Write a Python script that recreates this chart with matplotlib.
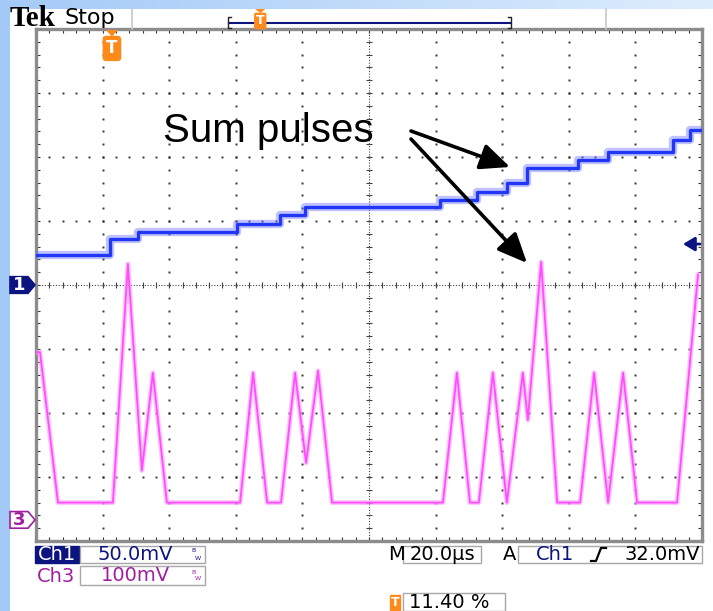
import numpy as np
import matplotlib.pyplot as plt
from matplotlib.patches import Rectangle, Polygon
from matplotlib.transforms import blended_transform_factory

W, H = 713, 611

# Ch1: staircase sum signal, step times (us) and level after each step (mV)
ch1_t = [0.0, 22.2, 30.6, 60.4, 73.3, 80.8, 121.3, 132.4, 141.4, 147.4,
         162.8, 171.8, 191.3, 196.4, 200.0]
ch1_mv = [23.4, 35.9, 41.4, 47.7, 54.7, 60.9, 66.4, 72.7, 79.7, 91.4,
          97.7, 103.9, 113.3, 121.1, 121.1]

# Ch3: shaped pulses, corner points (us, mV)
ch3_t = [0, 1.2, 6.6, 23.1, 27.6, 31.8, 35.1, 39.3, 61.3, 65.2, 69.4,
         73.6, 77.8, 81.1, 84.7, 88.9, 122.2, 126.4, 130.3, 133.0, 137.2,
         141.4, 146.2, 147.7, 151.7, 156.5, 163.4, 167.6, 171.8, 176.3,
         180.5, 192.5, 198.8]
ch3_mv = [262, 262, 27, 27, 400, 77, 230, 27, 27, 230, 27,
          27, 230, 89, 233, 27, 27, 230, 27, 27, 230,
          27, 230, 156, 403, 27, 27, 230, 27, 230,
          27, 27, 383]

# scope settings
ch1_scale = 50.0      # mV/div
ch3_scale = 100.0     # mV/div
ch1_pos = 0.0         # div
ch3_pos = -3.67       # div
time_scale = 20.0     # us/div
trig_level = 32.0     # mV on Ch1
trig_pct = 11.40      # % of record

NAVY = '#0c1480'
PURPLE = '#a01ea0'
ORANGE = '#ff8a1c'
BLUE = '#2236f5'
PINK = '#ff4cff'

fig = plt.figure(figsize=(W / 100, H / 100), dpi=100)

# background: white with light blue left and top strips
bg = fig.add_axes([0, 0, 1, 1], zorder=0)
bg.set_axis_off()
img = np.ones((H, W, 3))
c0 = np.array([0.64, 0.79, 0.97])
c1 = np.array([0.87, 0.93, 0.99])
ramp = np.linspace(0, 1, W)[:, None]
img[:9, :, :] = c0 * (1 - ramp) + c1 * ramp
img[:, :10, :] = c0
bg.imshow(img, aspect='auto', extent=[0, W, H, 0], interpolation='bilinear')
bg.set_xlim(0, W)
bg.set_ylim(H, 0)

# graticule
ax = fig.add_axes([36 / W, 1 - 541 / H, 666 / W, 512 / H], zorder=2)
ax.set_xlim(0, 10 * time_scale)
ax.set_ylim(-4, 4)
ax.set_facecolor('white')
for s in ax.spines.values():
    s.set_color('#8c8c8c')
    s.set_linewidth(2.4)
ax.set_xticks(np.arange(0, 200.01, 4))
ax.set_yticks(np.arange(-4, 4.001, 0.2))
ax.tick_params(direction='in', length=3, width=0.8, color='#333333',
               top=True, right=True, labelbottom=False, labelleft=False)

ys = np.arange(-4, 4.001, 0.2)
xs = np.arange(0, 200.01, 4)
for gx in range(20, 200, 20):
    if gx != 100:
        ax.plot(np.full_like(ys, gx), ys, 's', ms=1.4, color='#333333', mec='none')
for gy in [-3, -2, -1, 1, 2, 3]:
    ax.plot(xs, np.full_like(xs, gy), 's', ms=1.4, color='#333333', mec='none')
ax.axhline(0, color='#444444', lw=0.8, ls=(0, (1, 1.5)))
ax.axvline(100, color='#444444', lw=0.8, ls=(0, (1, 1.5)))
ax.plot(xs, np.zeros_like(xs), '|', ms=5, mew=0.8, color='#444444')
ax.plot(np.full_like(ys, 100), ys, '_', ms=5, mew=0.8, color='#444444')

# traces
y1 = np.array(ch1_mv) / ch1_scale + ch1_pos
ax.step(ch1_t, y1, where='post', color='#6f7aff', lw=6, alpha=0.45, zorder=4)
ax.step(ch1_t, y1, where='post', color=BLUE, lw=2.4, zorder=5)
y3 = np.array(ch3_mv) / ch3_scale + ch3_pos
ax.plot(ch3_t, y3, color='#ff9cff', lw=3.5, alpha=0.6, zorder=4)
ax.plot(ch3_t, y3, color=PINK, lw=1.3, zorder=5)

# channel markers on the left, trigger level arrow on the right
tr = blended_transform_factory(ax.transAxes, ax.transData)
fx = lambda px: (px - 36) / 666.0
for pos, label, fc, ec, tc in [(ch1_pos, '1', NAVY, NAVY, 'white'),
                                (ch3_pos, '3', 'white', PURPLE, PURPLE)]:
    h = 0.13
    pts = [(fx(10), pos + h), (fx(28), pos + h), (fx(35), pos),
           (fx(28), pos - h), (fx(10), pos - h)]
    ax.add_patch(Polygon(pts, closed=True, fc=fc, ec=ec, lw=1.2,
                         transform=tr, clip_on=False, zorder=6))
    ax.text(fx(19), pos, label, transform=tr, color=tc, fontsize=13,
            fontweight='bold', ha='center', va='center', clip_on=False, zorder=7)

ty = trig_level / ch1_scale + ch1_pos
ax.annotate('', xy=(fx(683), ty), xytext=(fx(700), ty), xycoords=tr,
            textcoords=tr, zorder=7,
            arrowprops=dict(arrowstyle='-|>,head_length=0.5,head_width=0.3',
                            color=NAVY, lw=2, shrinkA=0, shrinkB=0,
                            mutation_scale=14))

# trigger position marker
t_trig = trig_pct / 100 * 10 * time_scale
tt = blended_transform_factory(ax.transData, ax.transAxes)
ax.add_patch(Polygon([(t_trig - 1.8, 0.998), (t_trig + 1.8, 0.998), (t_trig, 0.985)],
                     closed=True, fc=ORANGE, ec='none', transform=tt,
                     clip_on=False, zorder=7))
ax.text(t_trig, 0.962, 'T', transform=tt, color='white', fontsize=12,
        fontweight='bold', ha='center', va='center', zorder=8,
        bbox=dict(boxstyle='round,pad=0.22', fc=ORANGE, ec='none'))

# overlay in pixel coordinates for readouts and annotation
ui = fig.add_axes([0, 0, 1, 1], zorder=3)
ui.set_xlim(0, W)
ui.set_ylim(H, 0)
ui.set_axis_off()
ui.patch.set_alpha(0)

# top status bar
ui.text(10, 18, 'Tek', fontsize=21, fontweight='bold', family='Liberation Serif',
        ha='left', va='center')
ui.text(65, 18, 'Stop', fontsize=16, ha='left', va='center')
for sx in [132, 606]:
    ui.plot([sx, sx], [9, 29], color='#c8c8c8', lw=1.2)
ui.plot([229, 510], [23, 23], color=NAVY, lw=1.5)
ui.plot([231, 228, 228, 231], [17, 17, 28, 28], color='#222222', lw=1.0)
ui.plot([508, 511, 511, 508], [17, 17, 28, 28], color='#222222', lw=1.0)
rec_x = 228 + trig_pct / 100 * (511 - 228)
ui.add_patch(Polygon([(rec_x - 5, 9), (rec_x + 5, 9), (rec_x, 13)],
                     closed=True, fc=ORANGE, ec='none'))
ui.text(rec_x, 21, 'T', color='white', fontsize=9, fontweight='bold',
        ha='center', va='center',
        bbox=dict(boxstyle='round,pad=0.15', fc=ORANGE, ec='none'))

# annotation
ui.text(163, 142, 'Sum pulses', fontsize=29, family='Liberation Sans',
        ha='left', va='baseline')
for xy in [(510, 167), (527, 263)]:
    ui.annotate('', xy=xy, xytext=(411, 131 if xy[1] < 200 else 139),
                arrowprops=dict(arrowstyle='-|>,head_length=0.9,head_width=0.4',
                                color='black', lw=2.6, shrinkA=0, shrinkB=0,
                                mutation_scale=20))


def box(x0, y0, x1, y1, fc='white', ec='#a8a8a8'):
    ui.add_patch(Rectangle((x0, y0), x1 - x0, y1 - y0, fc=fc, ec=ec, lw=1.0))


def bw(x, y, color):
    ui.text(x - 1, y - 3.5, 'B', fontsize=4.5, color=color, ha='center', va='center')
    ui.text(x + 4, y + 3.5, 'W', fontsize=4.5, color=color, ha='center', va='center')


fs = 14
box(35, 546, 79, 563, fc=NAVY, ec=NAVY)
ui.text(57, 554.5, 'Ch1', color='white', fontsize=fs, ha='center', va='center')
box(80, 546, 205, 563)
ui.text(135, 554.5, f'{ch1_scale:.1f}mV', color=NAVY, fontsize=fs, ha='center', va='center')
bw(194, 554.5, NAVY)

ui.text(56, 576, 'Ch3', color=PURPLE, fontsize=fs, ha='center', va='center')
box(80, 566, 205, 585)
ui.text(135, 575.5, f'{ch3_scale:.0f}mV', color=PURPLE, fontsize=fs, ha='center', va='center')
bw(194, 575.5, PURPLE)

ui.text(397, 554.5, 'M', fontsize=fs, ha='center', va='center')
box(403, 546, 481, 563)
ui.text(442, 554.5, f'{time_scale:.1f}\u00b5s', fontsize=fs, ha='center', va='center')
ui.text(510, 554.5, 'A', fontsize=fs, ha='center', va='center')
box(518, 546, 702, 563)
ui.text(555, 554.5, 'Ch1', color=NAVY, fontsize=fs, ha='center', va='center')
ui.plot([591, 596, 601, 606], [561, 561, 548, 548], color='black', lw=1.6)
ui.text(700, 554.5, f'{trig_level:.1f}mV', fontsize=fs, ha='right', va='center')

box(390, 595, 400, 610, fc=ORANGE, ec=ORANGE)
ui.text(395, 602.5, 'T', color='white', fontsize=9, fontweight='bold',
        ha='center', va='center')
box(403, 593, 505, 611)
ui.text(409, 602.5, f'{trig_pct:.2f} %', fontsize=fs, ha='left', va='center')

fig.savefig('out.png', dpi=100)
